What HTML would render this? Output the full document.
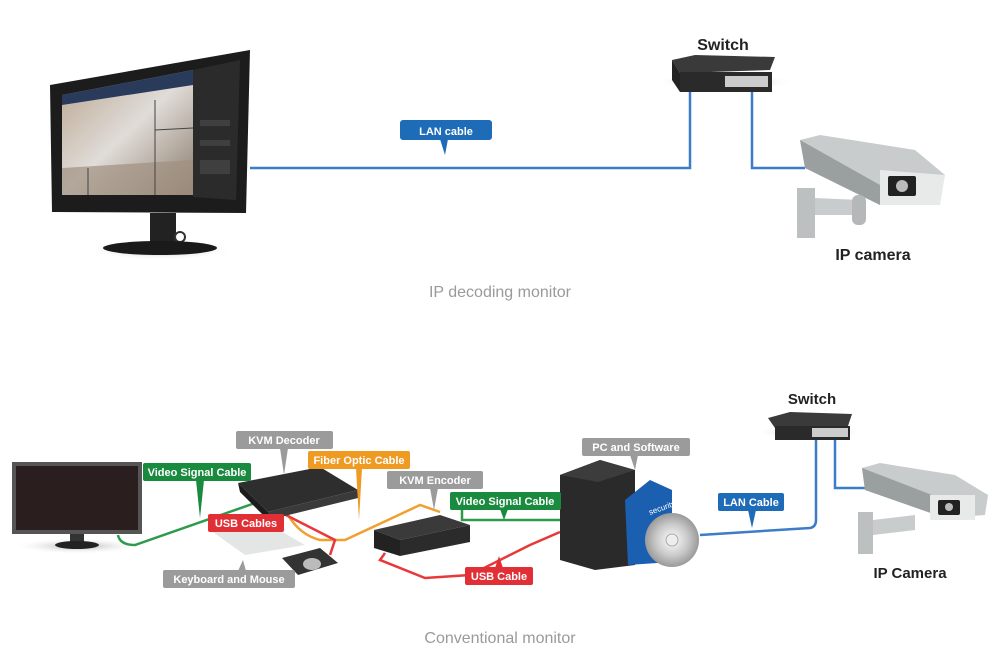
<!DOCTYPE html>
<html><head><meta charset="utf-8"><style>
html,body{margin:0;padding:0;background:#fff;}
svg{display:block;}
text{font-family:"Liberation Sans",sans-serif;}
.lb{font-size:11px;fill:#fff;text-anchor:middle;font-weight:bold;}
</style></head><body>
<svg width="1006" height="667" viewBox="0 0 1006 667" xmlns="http://www.w3.org/2000/svg">
<defs>
<radialGradient id="sh"><stop offset="0" stop-color="#888" stop-opacity=".7"/><stop offset="1" stop-color="#fff" stop-opacity="0"/></radialGradient>
<linearGradient id="scr" x1="0" y1="0" x2="1" y2="1"><stop offset="0" stop-color="#b9a48e"/><stop offset=".5" stop-color="#e0dcd8"/><stop offset="1" stop-color="#8a7a6a"/></linearGradient>
<radialGradient id="cd"><stop offset="0" stop-color="#fff"/><stop offset=".6" stop-color="#c8c8c8"/><stop offset="1" stop-color="#9a9a9a"/></radialGradient>
</defs>
<!-- TOP -->
<ellipse cx="160" cy="250" rx="75" ry="10" fill="url(#sh)"/>
<polygon points="50,85 250,50 246,213 52,212" fill="#1c1c1c"/>
<polygon points="62,95 193,70 193,195 62,195" fill="url(#scr)"/>
<polygon points="62,95 193,70 193,85 62,105" fill="#2a3a5a"/>
<polygon points="62,168 193,160 193,195 62,195" fill="#a09080" opacity=".7"/>
<line x1="88" y1="168" x2="88" y2="195" stroke="#444" stroke-width="1"/>
<line x1="155" y1="100" x2="155" y2="195" stroke="#444" stroke-width="1"/>
<line x1="155" y1="130" x2="193" y2="128" stroke="#444" stroke-width="1"/>
<polygon points="193,70 240,60 236,200 193,197" fill="#2b2b2b"/>
<rect x="200" y="120" width="30" height="6" fill="#3f3f3f"/>
<rect x="200" y="140" width="30" height="6" fill="#3f3f3f"/>
<rect x="200" y="160" width="30" height="14" fill="#3f3f3f"/>
<rect x="150" y="213" width="26" height="33" fill="#222"/>
<circle cx="180" cy="237" r="5" fill="none" stroke="#333" stroke-width="2"/>
<ellipse cx="160" cy="248" rx="57" ry="7" fill="#1a1a1a"/>
<polyline points="250,168 690,168 690,92" fill="none" stroke="#3d7cc9" stroke-width="2.5"/>
<polyline points="752,92 752,168 805,168" fill="none" stroke="#3d7cc9" stroke-width="2.5"/>
<rect x="400" y="120" width="92" height="20" rx="3" fill="#1e6bb8"/>
<polygon points="440,139 448,139 445,155" fill="#1e6bb8"/>
<text x="446" y="135" class="lb" font-size="12">LAN cable</text>
<ellipse cx="725" cy="82" rx="70" ry="8" fill="url(#sh)"/>
<polygon points="672,60 695,55 775,57 770,70 680,73" fill="#3a3a3a"/>
<polygon points="672,60 680,73 680,92 672,80" fill="#222"/>
<rect x="680" y="72" width="92" height="20" fill="#2a2a2a"/>
<rect x="725" y="76" width="43" height="11" fill="#ccc"/>
<text x="723" y="50" font-size="16" font-weight="bold" text-anchor="middle" fill="#222">Switch</text>
<polygon points="800,140 820,135 915,150 945,175 940,200 880,205 805,168" fill="#c9cccc"/>
<polygon points="800,140 805,168 880,205 880,185" fill="#9aa0a0"/>
<polygon points="880,170 945,175 940,205 880,205" fill="#e8eaea"/>
<rect x="888" y="176" width="28" height="20" rx="2" fill="#222"/>
<circle cx="902" cy="186" r="6" fill="#bbb"/>
<rect x="797" y="188" width="18" height="50" fill="#bcc0c0"/>
<polygon points="815,198 860,200 865,215 815,215" fill="#c8cccc"/>
<rect x="852" y="195" width="14" height="30" rx="6" fill="#b4b8b8"/>
<text x="873" y="260" font-size="16" font-weight="bold" text-anchor="middle" fill="#222">IP camera</text>
<text x="500" y="297" font-size="16" text-anchor="middle" fill="#9a9a9a">IP decoding monitor</text>
<!-- BOTTOM -->
<ellipse cx="78" cy="546" rx="65" ry="8" fill="url(#sh)"/>
<rect x="12" y="462" width="130" height="72" fill="#555"/>
<rect x="16" y="466" width="122" height="64" fill="#2b1e1e"/>
<rect x="70" y="534" width="14" height="8" fill="#333"/>
<ellipse cx="77" cy="545" rx="22" ry="4" fill="#222"/>
<!-- cables -->
<path d="M118,535 Q120,545 135,545 L258,502" fill="none" stroke="#2e9a4e" stroke-width="2.5"/>
<path d="M462,510 L462,520 L560,520" fill="none" stroke="#2e9a4e" stroke-width="2.5"/>
<path d="M288,515 Q300,535 320,540 L345,540 L420,505 L440,512" fill="none" stroke="#f0a030" stroke-width="2.5"/>
<path d="M280,512 L335,540 L330,555" fill="none" stroke="#e8383a" stroke-width="2.5"/>
<path d="M385,553 L380,560 L425,578 L470,575 L530,545 L560,532" fill="none" stroke="#e8383a" stroke-width="2.5"/>
<path d="M700,535 L810,528 Q816,527 816,520 L816,440" fill="none" stroke="#3d7cc9" stroke-width="2.5"/>
<path d="M835,440 L835,488 L866,488" fill="none" stroke="#3d7cc9" stroke-width="2.5"/>
<!-- devices -->
<polygon points="238,483 320,467 358,490 268,512" fill="#2e2e2e"/>
<polygon points="238,483 268,512 268,520 240,492" fill="#1c1c1c"/>
<polygon points="268,512 358,490 358,498 268,520" fill="#3a3a3a"/>
<polygon points="210,530 265,522 305,545 245,555" fill="#e4e6e6"/>
<polygon points="282,558 320,548 338,563 298,575" fill="#333"/>
<ellipse cx="312" cy="564" rx="9" ry="6" fill="#bbb"/>
<polygon points="374,530 440,515 470,525 400,540" fill="#3a3a3a"/>
<polygon points="374,530 400,540 400,556 374,548" fill="#222"/>
<polygon points="400,540 470,525 470,542 400,556" fill="#2b2b2b"/>
<polygon points="560,475 600,460 635,470 635,565 595,570 560,560" fill="#2a2a2a"/>
<polygon points="560,475 600,460 635,470 598,482" fill="#3c3c3c"/>
<polygon points="625,500 650,480 672,490 672,562 628,565" fill="#1a5fb0"/>
<text x="650" y="515" font-size="8" fill="#fff" transform="rotate(-20 650 515)">security</text>
<circle cx="672" cy="540" r="27" fill="url(#cd)"/>
<circle cx="672" cy="540" r="6" fill="#eee" stroke="#aaa"/>
<ellipse cx="810" cy="432" rx="55" ry="7" fill="url(#sh)"/>
<polygon points="768,418 790,412 852,414 848,426 775,428" fill="#3a3a3a"/>
<rect x="775" y="426" width="75" height="14" fill="#2a2a2a"/>
<rect x="812" y="428" width="36" height="9" fill="#ccc"/>
<text x="812" y="404" font-size="15" font-weight="bold" text-anchor="middle" fill="#222">Switch</text>
<polygon points="862,468 880,463 955,475 988,495 985,515 945,518 865,490" fill="#c9cccc"/>
<polygon points="862,468 865,490 945,518 945,500" fill="#9aa0a0"/>
<rect x="930" y="495" width="45" height="25" fill="#e8eaea"/>
<rect x="938" y="500" width="22" height="15" rx="2" fill="#222"/>
<circle cx="949" cy="507" r="4" fill="#bbb"/>
<rect x="858" y="512" width="15" height="42" fill="#bcc0c0"/>
<polygon points="873,520 915,515 915,530 873,535" fill="#c8cccc"/>
<text x="910" y="578" font-size="15" font-weight="bold" text-anchor="middle" fill="#222">IP Camera</text>
<!-- labels -->
<g>
<rect x="236" y="431" width="97" height="18" rx="2" fill="#9b9b9b"/><polygon points="280,448 288,448 284,475" fill="#9b9b9b"/>
<text x="284" y="444" class="lb">KVM Decoder</text>
<rect x="143" y="463" width="108" height="18" rx="2" fill="#1a8a3e"/><polygon points="196,480 204,480 200,518" fill="#1a8a3e"/>
<text x="197" y="476" class="lb">Video Signal Cable</text>
<rect x="308" y="451" width="102" height="18" rx="2" fill="#ef9a22"/><polygon points="356,468 362,468 359,520" fill="#ef9a22"/>
<text x="359" y="464" class="lb">Fiber Optic Cable</text>
<rect x="387" y="471" width="96" height="18" rx="2" fill="#9b9b9b"/><polygon points="430,488 438,488 434,510" fill="#9b9b9b"/>
<text x="435" y="484" class="lb">KVM Encoder</text>
<rect x="450" y="492" width="111" height="18" rx="2" fill="#1a8a3e"/><polygon points="500,509 508,509 504,520" fill="#1a8a3e"/>
<text x="505" y="505" class="lb">Video Signal Cable</text>
<rect x="208" y="514" width="76" height="18" rx="2" fill="#e03036"/>
<text x="246" y="527" class="lb">USB Cables</text>
<rect x="465" y="567" width="68" height="18" rx="2" fill="#e03036"/><polygon points="495,568 503,568 499,556" fill="#e03036"/>
<text x="499" y="580" class="lb">USB Cable</text>
<rect x="163" y="570" width="132" height="18" rx="2" fill="#9b9b9b"/><polygon points="238,571 246,571 243,560" fill="#9b9b9b"/>
<text x="229" y="583" class="lb">Keyboard and Mouse</text>
<rect x="582" y="438" width="108" height="18" rx="2" fill="#9b9b9b"/><polygon points="630,455 638,455 635,470" fill="#9b9b9b"/>
<text x="636" y="451" class="lb">PC and Software</text>
<rect x="718" y="493" width="66" height="18" rx="2" fill="#1e6bb8"/><polygon points="748,510 756,510 752,528" fill="#1e6bb8"/>
<text x="751" y="506" class="lb">LAN Cable</text>
</g>
<text x="500" y="643" font-size="16" text-anchor="middle" fill="#9a9a9a">Conventional monitor</text>
</svg>
</body></html>
